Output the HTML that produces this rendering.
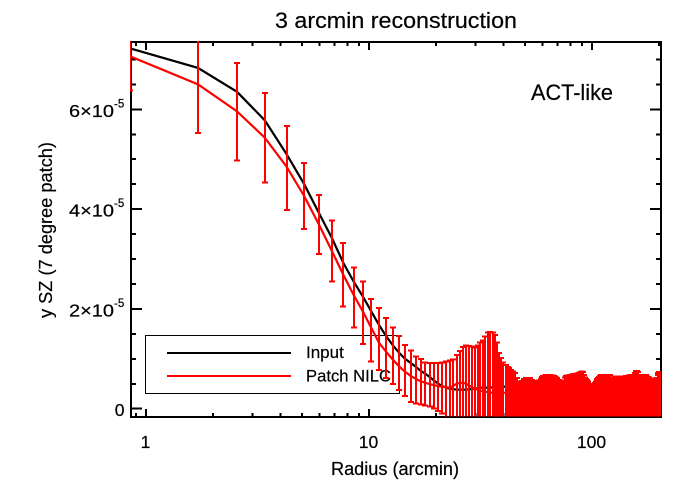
<!DOCTYPE html>
<html>
<head>
<meta charset="utf-8">
<title>3 arcmin reconstruction</title>
<style>
html,body{margin:0;padding:0;background:#fff;}
svg{display:block;font-family:"Liberation Sans",sans-serif;fill:#000;}
svg text{stroke:#000;stroke-width:0.2px;}
</style>
</head>
<body>
<svg id="chart" width="700" height="500" viewBox="0 0 700 500" xmlns="http://www.w3.org/2000/svg">
  <defs>
    <clipPath id="plot-clip"><rect x="130" y="41" width="531" height="375.5"></rect></clipPath>
  </defs>
  <rect x="0" y="0" width="700" height="500" fill="#fff"></rect>
  <text x="396" y="28" font-size="22" text-anchor="middle" textLength="242" lengthAdjust="spacingAndGlyphs">3 arcmin reconstruction</text>
  <text x="395" y="475" font-size="18" text-anchor="middle" textLength="128" lengthAdjust="spacingAndGlyphs">Radius (arcmin)</text>
  <text transform="translate(52,230) rotate(-90)" font-size="18" text-anchor="middle" textLength="176" lengthAdjust="spacingAndGlyphs">y SZ (7 degree patch)</text>
  <g id="axes"></g>
  <g>
    <rect x="145.5" y="335.5" width="254" height="58" fill="none" stroke="#000" stroke-width="1" shape-rendering="crispEdges"></rect>
    <line x1="167" x2="291" y1="353" y2="353" stroke="#000" stroke-width="2" shape-rendering="crispEdges"></line>
    <line x1="167" x2="291" y1="376" y2="376" stroke="#f00" stroke-width="2" shape-rendering="crispEdges"></line>
    <text x="306" y="358" font-size="17">Input</text>
    <text x="306" y="381.5" font-size="17" textLength="85" lengthAdjust="spacingAndGlyphs">Patch NILC</text>
  </g>
  <g id="series" clip-path="url(#plot-clip)"></g>
  <text x="531" y="100" font-size="22" textLength="82" lengthAdjust="spacingAndGlyphs">ACT-like</text>
</svg>
<script>
const radius = [
0.85,1.71,2.56,3.41,4.27,5.12,5.97,6.82,7.68,8.53,
9.38,10.24,11.09,11.94,12.80,13.65,14.50,15.35,16.21,17.06,
17.91,18.77,19.62,20.47,21.33,22.18,23.03,23.88,24.74,25.59,
26.44,27.30,28.15,29.00,29.86,30.71,31.56,32.41,33.27,34.12,
34.97,35.83,36.68,37.53,38.39,39.24,40.09,40.94,41.80,42.65,
43.50,44.36,45.21,46.06,46.92,47.77,48.62,49.47,50.33,51.18,
52.03,52.89,53.74,54.59,55.45,56.30,57.15,58.00,58.86,59.71,
60.56,61.42,62.27,63.12,63.98,64.83,65.68,66.53,67.39,68.24,
69.09,69.95,70.80,71.65,72.51,73.36,74.21,75.06,75.92,76.77,
77.62,78.48,79.33,80.18,81.04,81.89,82.74,83.59,84.45,85.30,
86.15,87.01,87.86,88.71,89.57,90.42,91.27,92.12,92.98,93.83,
94.68,95.54,96.39,97.24,98.10,98.95,99.80,100.65,101.51,102.36,
103.21,104.07,104.92,105.77,106.63,107.48,108.33,109.18,110.04,110.89,
111.74,112.60,113.45,114.30,115.16,116.01,116.86,117.71,118.57,119.42,
120.27,121.13,121.98,122.83,123.69,124.54,125.39,126.24,127.10,127.95,
128.80,129.66,130.51,131.36,132.22,133.07,133.92,134.77,135.63,136.48,
137.33,138.19,139.04,139.89,140.75,141.60,142.45,143.30,144.16,145.01,
145.86,146.72,147.57,148.42,149.28,150.13,150.98,151.83,152.69,153.54,
154.39,155.25,156.10,156.95,157.81,158.66,159.51,160.36,161.22,162.07,
162.92,163.78,164.63,165.48,166.34,167.19,168.04,168.89,169.75,170.60,
171.45,172.31,173.16,174.01,174.87,175.72,176.57,177.42,178.28,179.13,
179.98,180.84,181.69,182.54,183.40,184.25,185.10,185.95,186.81,187.66,
188.51,189.37,190.22,191.07,191.93,192.78,193.63,194.48,195.34,196.19,
197.04,197.90,198.75,199.60,200.46,201.31,202.16,203.01,203.87];

const inputY = [
7.22,6.83,6.35,5.78,5.10,4.50,3.92,3.42,2.92,2.55,
2.25,1.95,1.68,1.45,1.27,1.12,1.00,0.92,0.84,0.76,
0.70,0.63,0.56,0.50,0.45,0.42,0.40,0.39,0.38,0.38,
0.38,0.38,0.39,0.39,0.40,0.41,0.42,0.42,0.42,0.42,
0.42,0.43,0.43,0.44,0.44,0.44,0.44,0.44,0.44,0.44,
0.44,0.43,0.43,0.43,0.42,0.42,0.42,0.41,0.41,0.41,
0.40,0.40,0.40,0.40,0.40,0.39,0.39,0.39,0.39,0.39,
0.39,0.39,0.39,0.38,0.38,0.38,0.38,0.38,0.38,0.38,
0.38,0.38,0.38,0.38,0.38,0.38,0.38,0.37,0.37,0.37,
0.37,0.37,0.37,0.37,0.37,0.37,0.37,0.37,0.37,0.37,
0.37,0.37,0.37,0.37,0.37,0.37,0.36,0.36,0.36,0.36,
0.36,0.36,0.36,0.36,0.36,0.36,0.36,0.36,0.36,0.36,
0.36,0.36,0.36,0.36,0.36,0.36,0.36,0.36,0.36,0.36,
0.36,0.36,0.36,0.36,0.36,0.36,0.36,0.36,0.36,0.36,
0.36,0.36,0.36,0.36,0.36,0.36,0.36,0.36,0.36,0.36,
0.36,0.36,0.36,0.36,0.36,0.36,0.36,0.36,0.36,0.36,
0.36,0.36,0.36,0.36,0.36,0.36,0.36,0.36,0.36,0.36,
0.36,0.36,0.36,0.36,0.36,0.36,0.36,0.36,0.36,0.36,
0.36,0.36,0.36,0.36,0.36,0.36,0.36,0.36,0.36,0.36,
0.36,0.36,0.36,0.36,0.36,0.36,0.36,0.36,0.36,0.36,
0.36,0.36,0.36,0.36,0.36,0.36,0.36,0.36,0.36,0.36,
0.36,0.36,0.36,0.36,0.36,0.36,0.36,0.36,0.36,0.36,
0.36,0.36,0.36,0.36,0.36,0.36,0.36,0.36,0.36,0.36,
0.36,0.36,0.36,0.36,0.36,0.36,0.36,0.36,0.36];

const nilcY = [
7.06,6.50,5.96,5.43,4.85,4.26,3.69,3.16,2.68,2.28,
1.95,1.62,1.32,1.14,0.98,0.85,0.74,0.66,0.60,0.55,
0.52,0.49,0.47,0.45,0.44,0.43,0.42,0.46,0.50,0.52,
0.52,0.50,0.46,0.43,0.40,0.38,0.36,0.35,0.34,0.33,
0.32,0.32,0.32,0.32,0.32,0.32,0.32,0.32,0.32,0.32,
0.32,0.32,0.32,0.31,0.30,0.30,0.30,0.30,0.30,0.30,
0.30,0.30,0.30,0.29,0.29,0.29,0.29,0.29,0.29,0.30,
0.30,0.30,0.30,0.30,0.30,0.30,0.30,0.30,0.30,0.30,
0.30,0.30,0.29,0.28,0.28,0.28,0.28,0.28,0.29,0.30,
0.30,0.30,0.30,0.30,0.30,0.30,0.30,0.30,0.30,0.31,
0.31,0.31,0.31,0.31,0.31,0.31,0.31,0.30,0.29,0.28,
0.28,0.27,0.26,0.25,0.25,0.25,0.25,0.25,0.25,0.25,
0.26,0.27,0.28,0.29,0.29,0.30,0.30,0.30,0.30,0.30,
0.30,0.30,0.30,0.30,0.30,0.30,0.30,0.30,0.30,0.30,
0.30,0.29,0.28,0.28,0.28,0.29,0.29,0.30,0.30,0.30,
0.30,0.30,0.30,0.30,0.30,0.30,0.30,0.30,0.30,0.30,
0.30,0.30,0.30,0.30,0.30,0.30,0.30,0.30,0.30,0.30,
0.30,0.30,0.30,0.30,0.30,0.30,0.30,0.30,0.30,0.30,
0.30,0.30,0.31,0.32,0.32,0.32,0.32,0.32,0.30,0.30,
0.30,0.30,0.30,0.30,0.30,0.30,0.30,0.30,0.30,0.30,
0.30,0.30,0.30,0.30,0.30,0.30,0.30,0.30,0.30,0.30,
0.30,0.29,0.29,0.29,0.29,0.29,0.29,0.29,0.29,0.29,
0.29,0.29,0.29,0.29,0.29,0.29,0.29,0.29,0.29,0.30,
0.30,0.31,0.32,0.32,0.32,0.32,0.32,0.32,0.32];

const errHigh = [
7.74,7.47,6.93,6.33,5.67,4.92,4.28,3.77,3.32,2.83,
2.55,2.20,2.02,1.82,1.63,1.46,1.28,1.17,1.05,1.00,
0.93,0.92,0.92,0.92,0.93,0.95,0.97,0.99,1.08,1.16,
1.24,1.27,1.26,1.25,1.23,1.27,1.33,1.37,1.45,1.53,
1.54,1.53,1.48,1.33,1.12,1.02,0.93,0.88,0.84,0.82,
0.78,0.75,0.72,0.62,0.55,0.54,0.56,0.60,0.62,0.62,
0.62,0.62,0.58,0.56,0.54,0.53,0.53,0.57,0.60,0.64,
0.66,0.67,0.68,0.68,0.68,0.68,0.67,0.67,0.66,0.65,
0.63,0.62,0.58,0.54,0.53,0.52,0.52,0.57,0.63,0.66,
0.67,0.67,0.68,0.68,0.69,0.69,0.70,0.70,0.70,0.71,
0.71,0.72,0.72,0.73,0.74,0.75,0.74,0.68,0.63,0.60,
0.58,0.55,0.52,0.49,0.48,0.48,0.48,0.48,0.49,0.50,
0.52,0.55,0.58,0.60,0.62,0.64,0.66,0.67,0.68,0.68,
0.68,0.68,0.68,0.68,0.68,0.68,0.68,0.68,0.68,0.68,
0.68,0.62,0.57,0.58,0.60,0.62,0.63,0.64,0.64,0.65,
0.65,0.65,0.65,0.65,0.65,0.65,0.65,0.65,0.65,0.65,
0.65,0.65,0.65,0.65,0.65,0.66,0.66,0.66,0.66,0.66,
0.67,0.67,0.67,0.67,0.67,0.68,0.68,0.68,0.68,0.68,
0.68,0.68,0.72,0.76,0.76,0.76,0.76,0.74,0.68,0.66,
0.65,0.65,0.66,0.66,0.67,0.67,0.68,0.68,0.68,0.68,
0.68,0.68,0.68,0.68,0.66,0.65,0.65,0.64,0.64,0.63,
0.63,0.62,0.61,0.61,0.61,0.61,0.61,0.60,0.60,0.60,
0.60,0.60,0.60,0.60,0.60,0.60,0.60,0.60,0.60,0.62,
0.68,0.72,0.74,0.74,0.74,0.74,0.74,0.74,0.74];

const errLow = [
6.38,5.53,4.97,4.53,3.98,3.60,3.10,2.55,2.05,1.63,
1.30,0.95,0.78,0.62,0.50,0.37,0.25,0.13,0.10,0.08,
0.06,0.04,0.00,-0.05,-0.10,-0.20,-0.20,-0.20,-0.20,-0.20,
-0.20,-0.20,-0.20,-0.20,-0.20,-0.20,-0.20,-0.20,-0.20,-0.20,
-0.20,-0.20,-0.20,-0.20,-0.20,-0.20,-0.20,-0.20,-0.20,-0.20,
-0.20,-0.20,-0.20,-0.20,-0.20,-0.20,-0.20,-0.20,-0.20,-0.20,
-0.20,-0.20,-0.20,-0.20,-0.20,-0.20,-0.20,-0.20,-0.20,-0.20,
-0.20,-0.20,-0.20,-0.20,-0.20,-0.20,-0.20,-0.20,-0.20,-0.20,
-0.20,-0.20,-0.20,-0.20,-0.20,-0.20,-0.20,-0.20,-0.20,-0.20,
-0.20,-0.20,-0.20,-0.20,-0.20,-0.20,-0.20,-0.20,-0.20,-0.20,
-0.20,-0.20,-0.20,-0.20,-0.20,-0.20,-0.20,-0.20,-0.20,-0.20,
-0.20,-0.20,-0.20,-0.20,-0.20,-0.20,-0.20,-0.20,-0.20,-0.20,
-0.20,-0.20,-0.20,-0.20,-0.20,-0.20,-0.20,-0.20,-0.20,-0.20,
-0.20,-0.20,-0.20,-0.20,-0.20,-0.20,-0.20,-0.20,-0.20,-0.20,
-0.20,-0.20,-0.20,-0.20,-0.20,-0.20,-0.20,-0.20,-0.20,-0.20,
-0.20,-0.20,-0.20,-0.20,-0.20,-0.20,-0.20,-0.20,-0.20,-0.20,
-0.20,-0.20,-0.20,-0.20,-0.20,-0.20,-0.20,-0.20,-0.20,-0.20,
-0.20,-0.20,-0.20,-0.20,-0.20,-0.20,-0.20,-0.20,-0.20,-0.20,
-0.20,-0.20,-0.20,-0.20,-0.20,-0.20,-0.20,-0.20,-0.20,-0.20,
-0.20,-0.20,-0.20,-0.20,-0.20,-0.20,-0.20,-0.20,-0.20,-0.20,
-0.20,-0.20,-0.20,-0.20,-0.20,-0.20,-0.20,-0.20,-0.20,-0.20,
-0.20,-0.20,-0.20,-0.20,-0.20,-0.20,-0.20,-0.20,-0.20,-0.20,
-0.20,-0.20,-0.20,-0.20,-0.20,-0.20,-0.20,-0.20,-0.20,-0.20,
-0.20,-0.20,-0.20,-0.20,-0.20,-0.20,-0.20,-0.20,-0.20];

const xTickValues = [1, 10, 100];
const xTickLabels = ["1", "10", "100"];
const xMinorValues = [0.9, 2, 3, 4, 5, 6, 7, 8, 9, 20, 30, 40, 50, 60, 70, 80, 90, 200];
const yTickValues = [0, 2, 4, 6];
const yTickMantissas = ["0", "2×10", "4×10", "6×10"];
const yTickExponents = ["", "-5", "-5", "-5"];
const yMinorValues = [0.5, 1, 1.5, 2.5, 3, 3.5, 4.5, 5, 5.5, 6.5, 7];

const SVG_NS = "http://www.w3.org/2000/svg";
const PLOT_LEFT = 131, PLOT_RIGHT = 661, PLOT_TOP = 42, PLOT_BOTTOM = 417;
const axesGroup = document.getElementById("axes");
const seriesGroup = document.getElementById("series");

function xScale(r) { return 146 + 223 * Math.log10(r); }
function yScale(v) { return 408.7 - 49.9 * v; }

function makeLine(parent, x1, y1, x2, y2, color, width) {
  const el = document.createElementNS(SVG_NS, "line");
  el.setAttribute("x1", x1);
  el.setAttribute("y1", y1);
  el.setAttribute("x2", x2);
  el.setAttribute("y2", y2);
  el.setAttribute("stroke", color);
  el.setAttribute("stroke-width", width);
  el.setAttribute("shape-rendering", "crispEdges");
  parent.appendChild(el);
  return el;
}

function makeText(x, y, size, anchor, content) {
  const el = document.createElementNS(SVG_NS, "text");
  el.setAttribute("x", x);
  el.setAttribute("y", y);
  el.setAttribute("font-size", size);
  el.setAttribute("text-anchor", anchor);
  el.textContent = content;
  axesGroup.appendChild(el);
  return el;
}

function drawFrame() {
  const frame = document.createElementNS(SVG_NS, "rect");
  
  
  frame.setAttribute("x", PLOT_LEFT);
  frame.setAttribute("y", PLOT_TOP);
  frame.setAttribute("width", PLOT_RIGHT - PLOT_LEFT);
  frame.setAttribute("height", PLOT_BOTTOM - PLOT_TOP);
  frame.setAttribute("fill", "none");
  frame.setAttribute("stroke", "#000");
  frame.setAttribute("stroke-width", "2");
  frame.setAttribute("shape-rendering", "crispEdges");
  axesGroup.appendChild(frame);
}

function drawXTicks() {
  xTickValues.forEach(function (v, k) {
    const x = xScale(v);
    const bottomTick = makeLine(axesGroup, x, PLOT_BOTTOM, x, PLOT_BOTTOM - 8, "#000", 2);
    
    
    const topTick = makeLine(axesGroup, x, PLOT_TOP, x, PLOT_TOP + 8, "#000", 2);
    
    
    const label = makeText(x - 0.5, 448, 17.5, "middle", xTickLabels[k]);
    
    
  });
  xMinorValues.forEach(function (v) {
    const x = xScale(v);
    if (x > PLOT_RIGHT) return;
    const bottomTick = makeLine(axesGroup, x, PLOT_BOTTOM, x, PLOT_BOTTOM - 4, "#000", 2);
    
    
    const topTick = makeLine(axesGroup, x, PLOT_TOP, x, PLOT_TOP + 4, "#000", 2);
    
    
  });
}

function drawYTicks() {
  yTickValues.forEach(function (v, k) {
    const y = yScale(v);
    const leftTick = makeLine(axesGroup, PLOT_LEFT, y, PLOT_LEFT + 11, y, "#000", 2);
    
    
    const rightTick = makeLine(axesGroup, PLOT_RIGHT, y, PLOT_RIGHT - 11, y, "#000", 2);
    
    
    const hasExponent = yTickExponents[k] !== "";
    const mantissaX = hasExponent ? 69 : 124.5;
    const mantissa = makeText(mantissaX, y + 7.5, 17.5, hasExponent ? "start" : "end", yTickMantissas[k]);
    
    
    if (hasExponent) {
      mantissa.setAttribute("textLength", "45");
      mantissa.setAttribute("lengthAdjust", "spacingAndGlyphs");
      const exponent = makeText(114, y - 2, 11.5, "start", yTickExponents[k]);
      
      
    }
  });
  yMinorValues.forEach(function (v) {
    const y = yScale(v);
    const leftTick = makeLine(axesGroup, PLOT_LEFT, y, PLOT_LEFT + 5, y, "#000", 2);
    
    
    const rightTick = makeLine(axesGroup, PLOT_RIGHT, y, PLOT_RIGHT - 5, y, "#000", 2);
    
    
  });
}

function linePoints(values) {
  return values.map(function (v, i) {
    return xScale(radius[i]).toFixed(1) + "," + yScale(v).toFixed(1);
  }).join(" ");
}

function drawSeries() {
  const inputLine = document.createElementNS(SVG_NS, "polyline");
  
  
  inputLine.setAttribute("points", linePoints(inputY));
  inputLine.setAttribute("fill", "none");
  inputLine.setAttribute("stroke", "#000");
  inputLine.setAttribute("stroke-width", "2.2");
  seriesGroup.appendChild(inputLine);

  const nilcLine = document.createElementNS(SVG_NS, "polyline");
  
  
  nilcLine.setAttribute("points", linePoints(nilcY));
  nilcLine.setAttribute("fill", "none");
  nilcLine.setAttribute("stroke", "#f00");
  nilcLine.setAttribute("stroke-width", "2.2");
  seriesGroup.appendChild(nilcLine);

  radius.forEach(function (r, i) {
    const x = Math.round(xScale(r));
    const yHigh = yScale(errHigh[i]);
    const yLow = yScale(errLow[i]);
    const stem = makeLine(seriesGroup, x, yHigh, x, yLow, "#f00", 2);
    
    
    const capHigh = makeLine(seriesGroup, x - 3, yHigh, x + 3, yHigh, "#f00", 2);
    
    
    const capLow = makeLine(seriesGroup, x - 3, yLow, x + 3, yLow, "#f00", 2);
    
    
  });
}

drawFrame();
drawXTicks();
drawYTicks();
drawSeries();
</script>
</body>
</html>
